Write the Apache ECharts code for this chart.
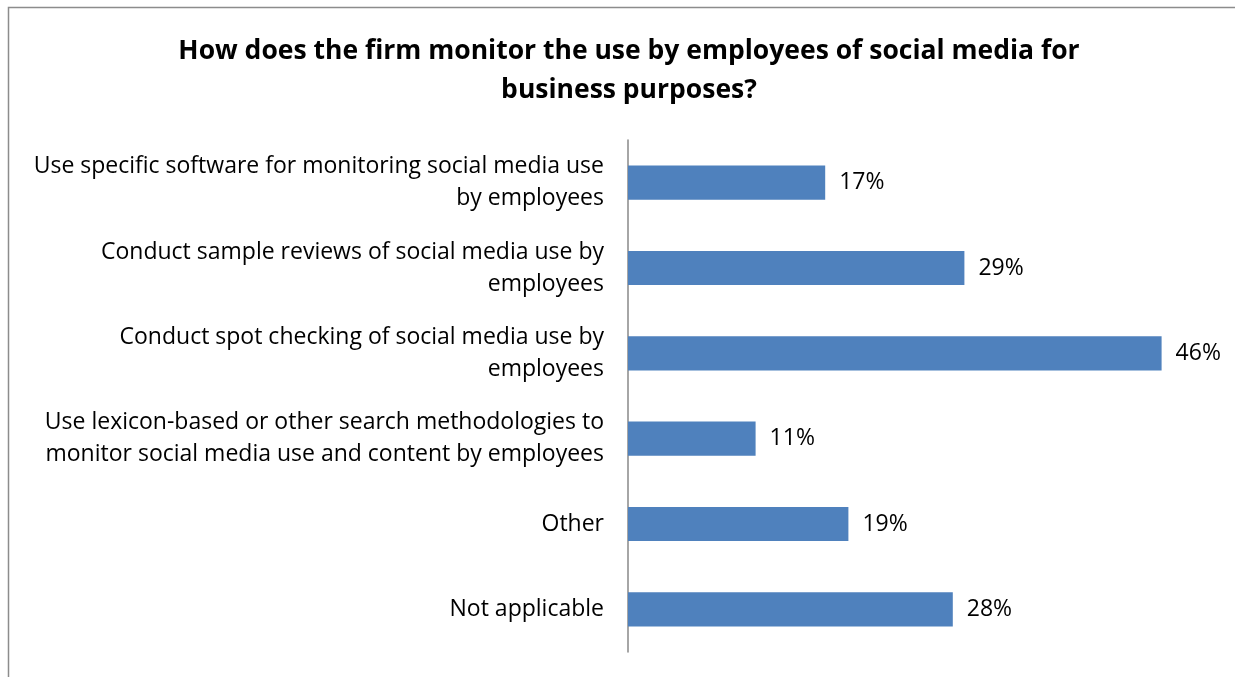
<!DOCTYPE html>
<html>
<head>
<meta charset="utf-8">
<script src="https://cdn.jsdelivr.net/npm/echarts@6/dist/echarts.min.js"></script>
<style>
  html, body { margin: 0; padding: 0; background: #fff; }
  #chart { width: 1235px; height: 677px; }
</style>
</head>
<body>
<div id="chart"></div>
<script>
// categories top to bottom
var categories = [
  'Use specific software for monitoring social media use\nby employees',
  'Conduct sample reviews of social media use by\nemployees',
  'Conduct spot checking of social media use by\nemployees',
  'Use lexicon-based or other search methodologies to\nmonitor social media use and content by employees',
  'Other',
  'Not applicable'
];
var values = [17, 29, 46, 11, 19, 28]; // percent

var font = '"Open Sans", sans-serif';
var chart = echarts.init(document.getElementById('chart'));

chart.setOption({
  backgroundColor: '#fff',
  animation: false,
  title: {
    text: 'How does the firm monitor the use by employees of social media for\nbusiness purposes?',
    left: 624,
    top: 27,
    textAlign: 'center',
    textStyle: { fontFamily: font, fontSize: 26.5, fontWeight: 'bold', color: '#000', lineHeight: 39 }
  },
  graphic: [{
    type: 'rect',
    shape: { x: 8.5, y: 7.5, width: 1300, height: 700 },
    style: { fill: 'none', stroke: '#8c8c8c', lineWidth: 1.5 },
    silent: true
  }],
  grid: { left: 628, right: 27, top: 140, bottom: 25 },
  xAxis: {
    type: 'value',
    min: 0,
    max: 50,
    show: false
  },
  yAxis: {
    type: 'category',
    inverse: true,
    data: categories,
    axisLine: { show: true, lineStyle: { color: '#888', width: 1.5 } },
    axisTick: { show: false },
    axisLabel: {
      fontFamily: font,
      fontSize: 23,
      color: '#000',
      lineHeight: 32,
      align: 'right',
      margin: 24
    }
  },
  series: [{
    type: 'bar',
    data: values,
    barWidth: '40%',
    itemStyle: { color: '#4F81BD' },
    label: {
      show: true,
      position: 'right',
      distance: 14,
      fontFamily: font,
      fontSize: 23,
      color: '#000',
      formatter: function (p) { return p.value + '%'; }
    }
  }]
});
</script>
</body>
</html>
